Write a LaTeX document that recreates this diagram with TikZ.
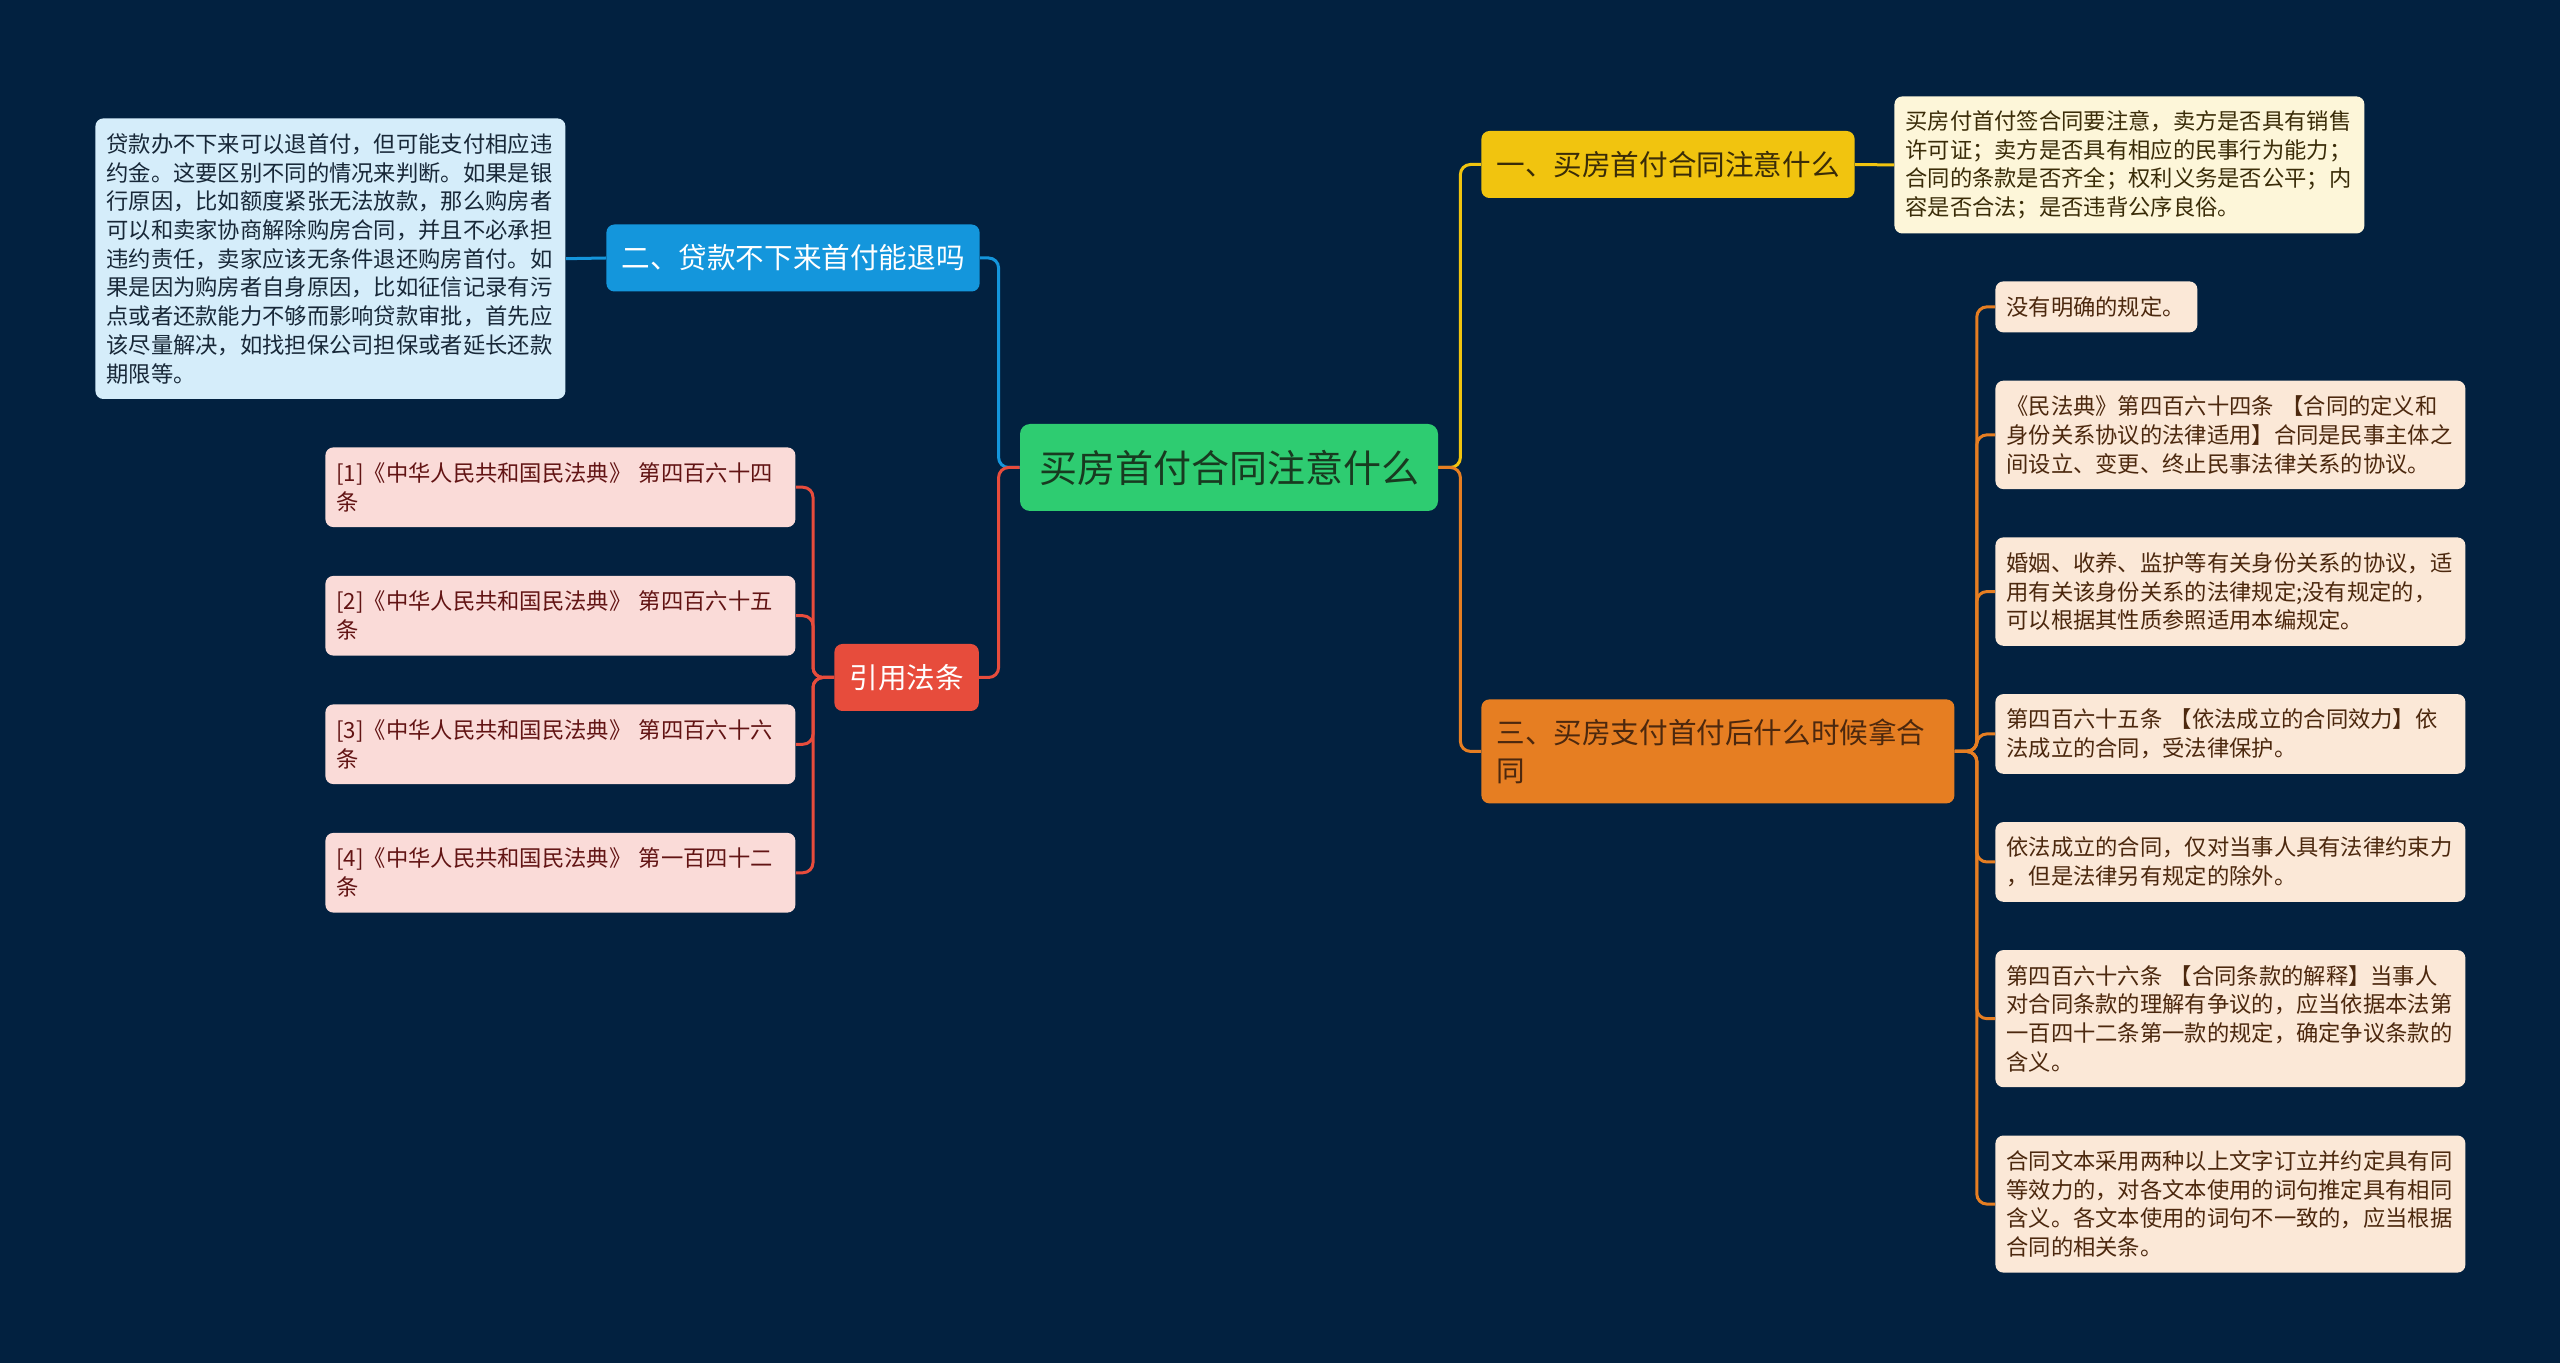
\documentclass[tikz,border=0pt]{standalone}
\usepackage{fontspec}
\setmainfont{Noto Sans CJK SC}
\usetikzlibrary{positioning}

\definecolor{bgnavy}{RGB}{2,33,64}
\definecolor{rootgreen}{RGB}{46,204,113}
\definecolor{roottext}{RGB}{24,58,32}
\definecolor{topicyellow}{RGB}{241,196,15}
\definecolor{topicorange}{RGB}{230,126,34}
\definecolor{topicblue}{RGB}{20,150,220}
\definecolor{topicred}{RGB}{231,76,60}
\definecolor{yellowpale}{RGB}{253,246,217}
\definecolor{orangepale}{RGB}{251,232,215}
\definecolor{bluepale}{RGB}{213,237,250}
\definecolor{redpale}{RGB}{250,219,216}
\definecolor{yellowink}{RGB}{58,44,8}
\definecolor{orangeink}{RGB}{76,40,14}
\definecolor{blueink}{RGB}{24,40,56}
\definecolor{redink}{RGB}{98,20,20}

\begin{document}
\begin{tikzpicture}[
    x=0.5pt, y=-0.5pt,
    root/.style={
        fill=rootgreen,
        text=roottext,
        rounded corners=5pt,
        inner sep=0pt,
        minimum width=209pt,
        minimum height=43.5pt,
        font=\fontsize{19pt}{23pt}\selectfont,
    },
    topic/.style={
        rounded corners=4pt,
        inner xsep=7.5pt,
        inner ysep=0pt,
        minimum height=33.5pt,
        align=left,
        font=\fontsize{14.3pt}{18.75pt}\selectfont,
    },
    detail/.style={
        rounded corners=4pt,
        inner xsep=5.5pt,
        inner ysep=3pt,
        anchor=north west,
        text width=224pt,
        align=left,
        font=\fontsize{11.15pt}{14.35pt}\selectfont,
    },
    nlines/.style={minimum height={25.5pt+(#1-1)*14.35pt}},
    link/.style={line width=1.5pt, rounded corners=5pt},
]

% --- Canvas ---
\fill[bgnavy] (0,0) rectangle (2560,1363);
\useasboundingbox (0,0) rectangle (2560,1363);

% --- Central topic ---
\node[root] (root) at (1229,467.5) {买房首付合同注意什么};

% --- Main branches ---
\node[topic, fill=topicyellow, text=yellowink, anchor=west, minimum width=186pt]
    (yel) at (1481,164.5) {一、买房首付合同注意什么};
\node[topic, fill=topicorange, text=orangeink, anchor=north west,
    text width=221.5pt, minimum height=52pt]
    (orn) at (1481,699) {三、买房支付首付后什么时候拿合\\同};
\node[topic, fill=topicblue, text=white, anchor=west, minimum width=185pt]
    (blue) at (606,258) {二、贷款不下来首付能退吗};
\node[topic, fill=topicred, text=white, anchor=west, minimum width=71pt]
    (cite) at (834,677.5) {引用法条};

% --- Yellow branch detail ---
\node[detail, fill=yellowpale, text=yellowink, nlines=4] (yd) at (1894,96) {%
    买房付首付签合同要注意，卖方是否具有销售\\
    许可证；卖方是否具有相应的民事行为能力；\\
    合同的条款是否齐全；权利义务是否公平；内\\
    容是否合法；是否违背公序良俗。%
};

% --- Blue branch detail ---
\node[detail, fill=bluepale, text=blueink, nlines=9] (bd) at (95,118) {%
    贷款办不下来可以退首付，但可能支付相应违\\
    约金。这要区别不同的情况来判断。如果是银\\
    行原因，比如额度紧张无法放款，那么购房者\\
    可以和卖家协商解除购房合同，并且不必承担\\
    违约责任，卖家应该无条件退还购房首付。如\\
    果是因为购房者自身原因，比如征信记录有污\\
    点或者还款能力不够而影响贷款审批，首先应\\
    该尽量解决，如找担保公司担保或者延长还款\\
    期限等。%
};

% --- Orange branch details (stacked) ---
\node[detail, fill=orangepale, text=orangeink, nlines=1, text width=90pt]
    (od1) at (1995,281) {没有明确的规定。};
\node[detail, fill=orangepale, text=orangeink, nlines=3,
    below=23.75pt of od1.south west, anchor=north west] (od2) {%
    《民法典》第四百六十四条~【合同的定义和\\
    身份关系协议的法律适用】合同是民事主体之\\
    间设立、变更、终止民事法律关系的协议。%
};
\node[detail, fill=orangepale, text=orangeink, nlines=3,
    below=23.75pt of od2.south west, anchor=north west] (od3) {%
    婚姻、收养、监护等有关身份关系的协议，适\\
    用有关该身份关系的法律规定;没有规定的，\\
    可以根据其性质参照适用本编规定。%
};
\node[detail, fill=orangepale, text=orangeink, nlines=2,
    below=23.75pt of od3.south west, anchor=north west] (od4) {%
    第四百六十五条~【依法成立的合同效力】依\\
    法成立的合同，受法律保护。%
};
\node[detail, fill=orangepale, text=orangeink, nlines=2,
    below=23.75pt of od4.south west, anchor=north west] (od5) {%
    依法成立的合同，仅对当事人具有法律约束力\\
    ，但是法律另有规定的除外。%
};
\node[detail, fill=orangepale, text=orangeink, nlines=4,
    below=23.75pt of od5.south west, anchor=north west] (od6) {%
    第四百六十六条~【合同条款的解释】当事人\\
    对合同条款的理解有争议的，应当依据本法第\\
    一百四十二条第一款的规定，确定争议条款的\\
    含义。%
};
\node[detail, fill=orangepale, text=orangeink, nlines=4,
    below=23.75pt of od6.south west, anchor=north west] (od7) {%
    合同文本采用两种以上文字订立并约定具有同\\
    等效力的，对各文本使用的词句推定具有相同\\
    含义。各文本使用的词句不一致的，应当根据\\
    合同的相关条。%
};

% --- Cited articles ---
\node[detail, fill=redpale, text=redink, nlines=2] (rd1) at (325,447)
    {[1]《中华人民共和国民法典》~第四百六十四\\条};
\node[detail, fill=redpale, text=redink, nlines=2,
    below=24pt of rd1.south west, anchor=north west] (rd2)
    {[2]《中华人民共和国民法典》~第四百六十五\\条};
\node[detail, fill=redpale, text=redink, nlines=2,
    below=24pt of rd2.south west, anchor=north west] (rd3)
    {[3]《中华人民共和国民法典》~第四百六十六\\条};
\node[detail, fill=redpale, text=redink, nlines=2,
    below=24pt of rd3.south west, anchor=north west] (rd4)
    {[4]《中华人民共和国民法典》~第一百四十二\\条};

% --- Connectors ---
\draw[link, topicblue] (root.west) -- ++(-21,0) |- (blue.east);
\draw[link, topicred] (root.west) -- ++(-21,0) |- (cite.east);
\draw[link, topicyellow] (root.east) -- ++(22,0) |- (yel.west);
\draw[link, topicorange] (root.east) -- ++(22,0) |- (orn.west);
\draw[link, topicyellow] (yel.east) -- (yd.west);
\draw[link, topicblue] (blue.west) -- (bd.east);
\foreach \i in {1,...,7} {
    \draw[link, topicorange] (orn.east) -- ++(22,0) |- (od\i.west);
}
\foreach \i in {1,...,4} {
    \draw[link, topicred] (cite.west) -- ++(-21,0) |- (rd\i.east);
}

\end{tikzpicture}
\end{document}
